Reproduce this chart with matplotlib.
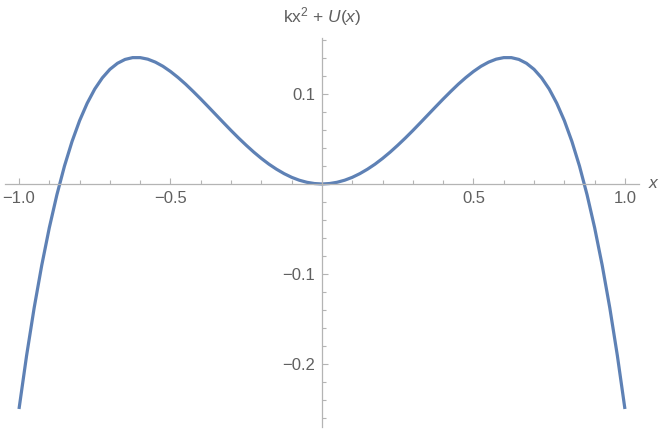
import numpy as np
import matplotlib
matplotlib.use('Agg')
import matplotlib.pyplot as plt
from matplotlib.ticker import FixedLocator, FixedFormatter

# values, right half (the curve is symmetric about x = 0)
xRight = [0.0, 0.025, 0.05, 0.075, 0.1, 0.125, 0.15, 0.175, 0.2, 0.225, 0.25,
          0.275, 0.3, 0.325, 0.35, 0.375, 0.4, 0.425, 0.45, 0.475, 0.5,
          0.525, 0.55, 0.575, 0.6, 0.625, 0.65, 0.675, 0.7, 0.725, 0.75,
          0.775, 0.8, 0.825, 0.85, 0.875, 0.9, 0.925, 0.95, 0.975, 1.0]
yRight = [0.0, 0.0005, 0.0019, 0.0042, 0.0074, 0.0115, 0.0164, 0.0220, 0.0284, 0.0354, 0.0430,
          0.0510, 0.0594, 0.0681, 0.0769, 0.0857, 0.0944, 0.1028, 0.1109, 0.1183, 0.1250,
          0.1308, 0.1354, 0.1387, 0.1404, 0.1404, 0.1384, 0.1341, 0.1274, 0.1179, 0.1055,
          0.0897, 0.0704, 0.0472, 0.0199, -0.0120, -0.0486, -0.0904, -0.1376, -0.1907, -0.2500]

xs = [-x for x in reversed(xRight[1:])] + xRight
ys = list(reversed(yRight[1:])) + yRight

xMajor = [-1.0, -0.5, 0.5, 1.0]
xMajorLabels = ['\u22121.0', '\u22120.5', '0.5', '1.0']
xMinor = [-0.9, -0.8, -0.7, -0.6, -0.4, -0.3, -0.2, -0.1, 0.1, 0.2, 0.3, 0.4, 0.6, 0.7, 0.8, 0.9]
yMajor = [-0.2, -0.1, 0.1]
yMajorLabels = ['\u22120.2', '\u22120.1', '0.1']
yMinor = [-0.26, -0.24, -0.22, -0.18, -0.16, -0.14, -0.12, -0.08, -0.06, -0.04, -0.02,
          0.02, 0.04, 0.06, 0.08, 0.12, 0.14, 0.16]

axisColor = '#b4b4b4'
textColor = '#606060'
lineColor = '#5e81b5'

plt.rcParams['font.family'] = ['Liberation Sans', 'DejaVu Sans']
plt.rcParams['mathtext.fontset'] = 'custom'
plt.rcParams['mathtext.rm'] = 'Liberation Sans'
plt.rcParams['mathtext.it'] = 'Liberation Sans:italic'

fig = plt.figure(figsize=(6.64, 4.32), dpi=100)
ax = fig.add_axes([0.0081, 0.0116, 0.9536, 0.900])
ax.plot(xs, ys, color=lineColor, linewidth=2.3, solid_capstyle='butt')
ax.set_xlim(-1.045, 1.045)
ax.set_ylim(-0.27, 0.162)

for side in ['top', 'right']:
  ax.spines[side].set_visible(False)
for side in ['left', 'bottom']:
  ax.spines[side].set_position(('data', 0))
  ax.spines[side].set_color(axisColor)
  ax.spines[side].set_linewidth(0.9)

ax.xaxis.set_major_locator(FixedLocator(xMajor))
ax.xaxis.set_major_formatter(FixedFormatter(xMajorLabels))
ax.xaxis.set_minor_locator(FixedLocator(xMinor))
ax.yaxis.set_major_locator(FixedLocator(yMajor))
ax.yaxis.set_major_formatter(FixedFormatter(yMajorLabels))
ax.yaxis.set_minor_locator(FixedLocator(yMinor))

ax.tick_params(which='both', direction='in', color=axisColor, width=0.8,
               labelcolor=textColor, labelsize=12)
ax.tick_params(which='major', length=4.6)
ax.tick_params(which='minor', length=2.6)
ax.tick_params(axis='x', which='major', pad=5)
ax.tick_params(axis='y', which='major', pad=5)

fig.text(0.485, 0.962, r'kx$^{\mathregular{2}}$ + $U$($x$)', ha='center', va='center',
         color=textColor, fontsize=12.5)
fig.text(0.984, 1 - 184 / 432, 'x', ha='center', va='center',
         color=textColor, fontsize=12.5, style='italic')

fig.savefig('out.png', dpi=100)
